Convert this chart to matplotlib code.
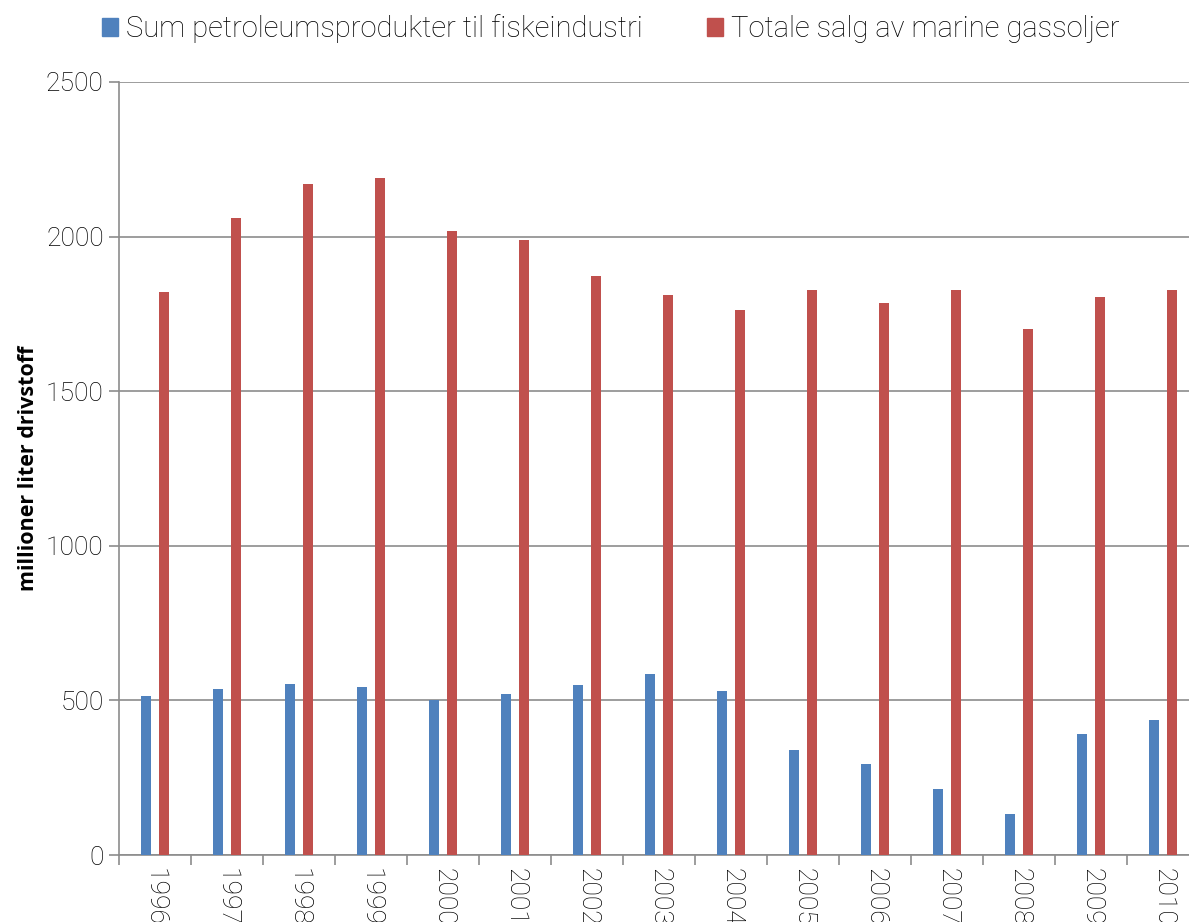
import numpy as np
import matplotlib
matplotlib.use("Agg")
import matplotlib.pyplot as plt
from matplotlib.patches import Patch

years = [str(y) for y in range(1996, 2011)]
fiske = [513, 536, 552, 543, 500, 522, 550, 585, 531, 341, 293, 215, 131, 390, 435]
marine = [1820, 2061, 2170, 2191, 2019, 1988, 1872, 1812, 1763, 1827, 1785, 1827, 1700, 1806, 1828]

blue = "#4F81BD"
red = "#C0504D"
grid_c = "#8C8C8C"
txt_c = "black"

plt.rcParams['font.family'] = ['Roboto', 'DejaVu Sans']

fig = plt.figure(figsize=(11.89, 9.22), dpi=100)
ax = fig.add_axes([119/1189, 67/922, 1080/1189, 773/922])

x = np.arange(len(years))
w = 0.13
ax.bar(x - 0.125, fiske, width=w, color=blue, zorder=3)
ax.bar(x + 0.125, marine, width=w, color=red, zorder=3)

ax.set_xlim(-0.5, len(years) - 0.5)
ax.set_ylim(0, 2500)
ax.set_yticks(np.arange(0, 2501, 500))
ax.yaxis.grid(True, color=grid_c, linewidth=1.2, zorder=0)

# category boundaries as major ticks, labels on minor ticks at centres
ax.set_xticks(np.arange(-0.5, len(years), 1.0))
ax.set_xticklabels([])
ax.set_xticks(x, minor=True)
ax.set_xticklabels(years, minor=True, rotation=-90, fontsize=19, color=txt_c,
                   fontweight='light')
ax.tick_params(axis='x', which='major', length=7, width=1.2, color=grid_c, direction='out')
ax.tick_params(axis='x', which='minor', length=0, pad=9)
ax.tick_params(axis='y', length=7, width=1.2, color=grid_c, labelsize=19,
               labelcolor=txt_c, pad=4)
for lab in ax.get_yticklabels():
    lab.set_fontweight('light')

for s in ['top', 'right']:
    ax.spines[s].set_visible(False)
for s in ['left', 'bottom']:
    ax.spines[s].set_color(grid_c)
    ax.spines[s].set_linewidth(1.2)

ax.set_ylabel("millioner liter drivstoff", fontsize=15.5, fontweight='bold',
              family=['Open Sans', 'DejaVu Sans'], labelpad=5, color="black")

handles = [Patch(color=blue, label="Sum petroleumsprodukter til fiskeindustri"),
           Patch(color=red, label="Totale salg av marine gassoljer")]
leg = fig.legend(handles=handles, loc='upper left', bbox_to_anchor=(87/1189, 1.0),
                 ncol=2, frameon=False, fontsize=21, handlelength=0.55, handleheight=0.55,
                 handletextpad=0.28, columnspacing=2.2, borderaxespad=0.1)
for t in leg.get_texts():
    t.set_color(txt_c)
    t.set_fontweight('light')

fig.savefig("out.png", dpi=100)
